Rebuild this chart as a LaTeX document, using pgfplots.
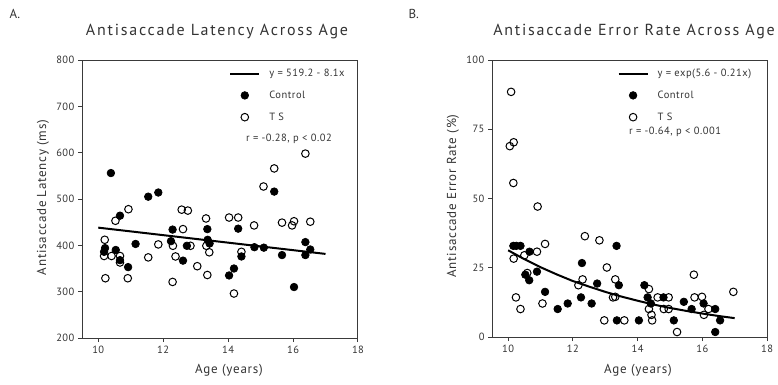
\documentclass[border=0pt]{standalone}
\usepackage{fontspec}
\setmainfont{PT Sans}
\newfontfamily\titlefont[LetterSpace=11]{PT Sans}
\newfontfamily\labfont[LetterSpace=6]{PT Sans}
\newfontfamily\legfont[LetterSpace=5]{PT Sans}
\usepackage{pgfplots}
\pgfplotsset{compat=1.18}
\definecolor{txt}{HTML}{333333}
\definecolor{ax}{HTML}{3a3a3a}
\pgfplotsset{
 panel/.style={
  scale only axis,
  xmin=9.5, xmax=18, xtick={10,12,14,16,18},
  axis line style={ax, line width=1pt},
  tick style={ax, line width=1pt},
  tick align=outside, xtick pos=left, ytick pos=left,
  major tick length=4pt,
  tick label style={font=\legfont\fontsize{10.5}{12}\selectfont, text=txt},
  /pgf/number format/assume math mode=true,
  legend style={draw=none, fill=none, font=\legfont\fontsize{10.5}{12}\selectfont, text=txt, row sep=8.8pt, anchor=north west, inner sep=0pt},
  legend cell align=left,
 },
 ctrl/.style={only marks, mark=*, mark size=3.8pt, mark options={fill=black, draw=black, line width=0.7pt},
   legend image code/.code={\path[draw=none,fill=none] (0pt,0pt) -- (37pt,0pt);\draw[mark repeat=2,mark phase=2,##1] plot coordinates {(0pt,0pt) (14.5pt,0pt) (29pt,0pt)};}},
 tsp/.style={only marks, mark=o, mark size=3.8pt, mark options={draw=black, fill=white, line width=1pt},
   legend image code/.code={\path[draw=none,fill=none] (0pt,0pt) -- (37pt,0pt);\draw[mark repeat=2,mark phase=2,##1] plot coordinates {(0pt,0pt) (14.5pt,0pt) (29pt,0pt)};}},
 fit/.style={black, line width=2pt, no marks,
   legend image code/.code={\path[draw=none,fill=none] (0pt,0pt) -- (37pt,0pt);\draw[##1] (0pt,0pt) -- (29pt,0pt);}},
}
\begin{document}
\begin{tikzpicture}
\useasboundingbox (0pt,0pt) rectangle (778pt,384pt);
% Panel labels and titles
\node[anchor=west, text=txt, font=\fontsize{13}{15}\selectfont] at (6pt,370pt) {A.};
\node[anchor=west, text=txt, font=\fontsize{13}{15}\selectfont] at (405pt,370pt) {B.};
\node[text=txt, font=\titlefont\fontsize{16}{18}\selectfont] at (217pt,352pt) {Antisaccade Latency Across Age};
\node[text=txt, font=\titlefont\fontsize{16}{18}\selectfont] at (634pt,352pt) {Antisaccade Error Rate Across Age};
\node[rotate=90, text=txt, font=\labfont\fontsize{13}{15}\selectfont] at (43pt,186.5pt) {Antisaccade Latency (ms)};
\node[rotate=90, text=txt, font=\labfont\fontsize{13}{15}\selectfont] at (453pt,188pt) {Antisaccade Error Rate (\%)};
\node[text=txt, font=\labfont\fontsize{13}{15}\selectfont] at (229pt,14pt) {Age (years)};
\node[text=txt, font=\labfont\fontsize{13}{15}\selectfont] at (638pt,14pt) {Age (years)};

% Panel A
\begin{axis}[panel, at={(82pt,46pt)}, anchor=south west, width=276pt, height=278pt,
  ymin=200, ymax=800, ytick={200,300,...,800},
  legend style={at={(axis description cs:0.533,0.975)}}]
\addplot[fit] coordinates {(10,438.2) (17,381.5)};
\addlegendentry{y = 519.2 - 8.1x}
\addplot[ctrl] coordinates {
(10.39,556) (15.42,516) (11.54,505) (11.85,514) (10.67,464) (12.29,434)
(13.36,435) (14.31,436) (11.15,403) (12.24,409) (12.73,399) (13.37,412)
(13.43,404) (14.81,396) (15.10,395) (16.38,407) (16.53,391) (10.21,394)
(10.18,386) (10.54,390) (10.67,368) (10.92,353) (12.61,367) (14.41,376)
(14.18,350) (14.03,335) (15.66,379) (16.38,379) (16.03,310)};
\addlegendentry{Control}
\addplot[tsp] coordinates {
(16.38,598) (15.42,566) (15.09,527) (10.93,478) (10.53,453) (12.57,477)
(12.76,475) (13.32,458) (14.03,460) (14.31,460) (12.61,435) (14.80,443)
(15.66,449) (16.03,452) (15.97,443) (16.53,451) (10.20,412) (11.85,402)
(12.30,399) (12.84,399) (13.33,399) (10.18,377) (10.41,377) (10.67,377)
(10.67,363) (11.54,374) (12.38,376) (13.42,385) (14.41,386) (13.05,355)
(13.36,336) (10.22,329) (10.91,329) (12.29,321) (14.18,296)};
\addlegendentry{T S}
\node[anchor=west, text=txt, font=\legfont\fontsize{10.5}{12}\selectfont, inner sep=0pt] at (rel axis cs:0.594,0.716) {r = -0.28, p < 0.02};
\end{axis}

% Panel B
\begin{axis}[panel, at={(492pt,47pt)}, anchor=south west, width=275pt, height=277pt,
  ymin=0, ymax=100, ytick={0,25,50,75,100},
  legend style={at={(axis description cs:0.456,0.975)}}]
\addplot[fit] coordinates {(10,31.3) (10.5,28.1) (11,25.2) (11.5,22.6) (12,20.2) (12.5,18.2) (13,16.3) (13.5,14.6) (14,13.1) (14.5,11.7) (15,10.5) (15.5,9.44) (16,8.47) (16.5,7.59) (17,6.81)};
\addlegendentry{y = exp(5.6 - 0.21x)}
\addplot[ctrl] coordinates {
(10.16,32.9) (10.25,32.9) (10.38,32.9) (10.66,30.8) (10.53,22.5) (10.65,20.5)
(10.89,23.6) (11.14,16.3) (11.53,10.1) (11.84,12.1) (12.28,26.7) (12.25,14.3)
(12.58,12.1) (12.75,19.3) (13.35,32.9) (13.42,18.7) (13.36,6.0) (14.04,6.0)
(14.21,18.7) (14.31,14.3) (14.41,12.1) (14.80,14.3) (15.12,6.0) (15.43,12.7)
(15.67,10.1) (16.04,12.1) (16.40,10.1) (16.55,6.0) (16.40,1.8)};
\addlegendentry{Control}
\addplot[tsp] coordinates {
(10.09,88.5) (10.17,70.3) (10.05,68.9) (10.16,55.6) (10.91,47.1) (10.17,28.3)
(10.50,29.5) (10.89,30.8) (11.14,33.6) (10.59,23.1) (10.24,14.3) (10.38,10.1)
(11.06,12.1) (12.30,20.8) (12.17,18.7) (12.37,36.4) (12.82,34.9) (13.05,25.1)
(12.97,6.0) (13.31,20.8) (13.24,14.3) (13.31,14.5) (13.59,6.0) (14.35,17.3)
(14.35,10.1) (14.43,8.0) (14.45,6.0) (14.62,14.3) (14.96,14.3) (14.81,10.1)
(14.96,10.1) (15.22,1.8) (15.74,22.5) (15.76,14.3) (15.99,14.5) (16.05,8.0)
(16.19,10.1) (16.96,16.3)};
\addlegendentry{T S}
\node[anchor=west, text=txt, font=\legfont\fontsize{10.5}{12}\selectfont, inner sep=0pt] at (rel axis cs:0.498,0.742) {r = -0.64, p < 0.001};
\end{axis}
\end{tikzpicture}
\end{document}
